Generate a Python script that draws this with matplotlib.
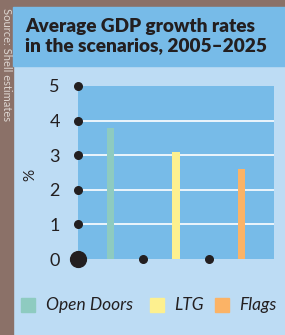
import matplotlib
matplotlib.use("Agg")
import matplotlib.pyplot as plt
from matplotlib.patches import Rectangle

categories = ["Open Doors", "LTG", "Flags"]
values = [3.8, 3.1, 2.6]
colors = ["#8ecbc0", "#fdf08f", "#fbb366"]
yticks = [0, 1, 2, 3, 4, 5]
title = "Average GDP growth rates\nin the scenarios, 2005\u20132025"
source = "Source: Shell estimates"

W, H = 285, 335
fig = plt.figure(figsize=(W / 100, H / 100), dpi=100)
fig.patch.set_facecolor("#bddcf4")

def px(x0, y0, x1, y1):
    return [x0 / W, 1 - y1 / H, (x1 - x0) / W, (y1 - y0) / H]

brown = "#8b7168"
fig.patches.append(Rectangle((0, 0), 13 / W, 1, transform=fig.transFigure, color=brown, zorder=0))
fig.patches.append(Rectangle((0, 1 - 7 / H), 1, 7 / H, transform=fig.transFigure, color=brown, zorder=0))
fig.patches.append(Rectangle((13 / W, 1 - 66 / H), 1 - 13 / W, 59 / H, transform=fig.transFigure,
                             color="#77bbe8", zorder=0))
fig.text(6 / W, 1 - 8 / H, source, rotation=270, va="top", ha="center", color="#ddd5d0",
         fontsize=8, family="Lato")
fig.text(25 / W, 1 - 36 / H, title, ha="left", va="center", fontsize=13.7, fontweight="heavy",
         color="#231f20", family="Lato", linespacing=1.2)

ax = fig.add_axes(px(78, 86, 274, 259))
ax.set_facecolor("#77bbe8")
x = list(range(len(categories)))
ax.bar(x, values, width=0.11, color=colors, zorder=3)
ax.set_xlim(-0.5, len(categories) - 0.5)
ax.set_ylim(0, 5)
for yv in yticks[1:-1]:
    ax.axhline(yv, color="white", lw=1.2, zorder=1)
for s in ax.spines.values():
    s.set_visible(False)
ax.set_xticks([])
ax.set_yticks(yticks)
ax.set_yticklabels([str(v) for v in yticks], fontsize=13, color="#231f20", family="Lato",
                   fontweight="normal")
ax.tick_params(axis="y", length=0, pad=13)
ax.scatter([-0.5] * 5, yticks[1:], s=30, color="#231f20", clip_on=False, zorder=5)
ax.scatter([-0.5], [0], s=130, color="#231f20", clip_on=False, zorder=5)
ax.scatter([0.5, 1.5], [0, 0], s=30, color="#231f20", clip_on=False, zorder=5)
fig.text(30 / W, 1 - 175 / H, "%", rotation=90, ha="center", va="center", fontsize=11,
         color="#231f20", family="Lato")

leg_y = 1 - 305 / H
sq = [(21, 46), (150, 174), (215, 239)]
for (sx, tx), c, lab in zip(sq, colors, categories):
    fig.patches.append(Rectangle((sx / W, 1 - 312 / H), 14 / W, 14 / H, transform=fig.transFigure,
                                 color=c))
    fig.text(tx / W, leg_y, lab, ha="left", va="center", fontsize=12.5, style="italic",
             color="#231f20", family="Lato")

fig.savefig("out.png", dpi=100, facecolor=fig.get_facecolor())
